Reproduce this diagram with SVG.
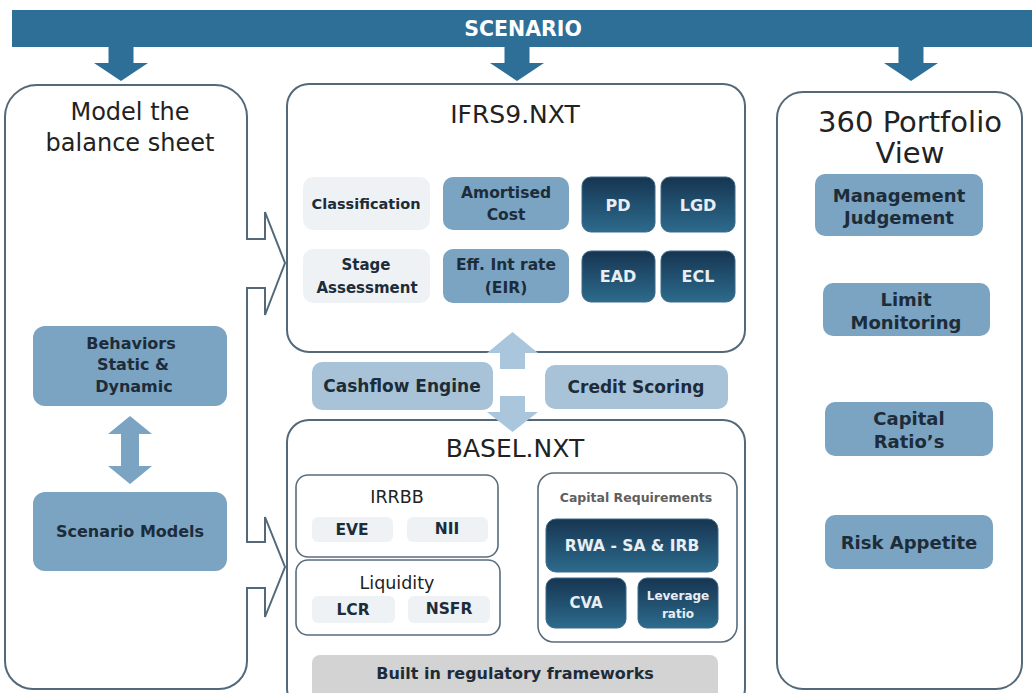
<svg xmlns="http://www.w3.org/2000/svg" width="1032" height="693" viewBox="0 0 1032 693">
<defs>
<linearGradient id="gd" x1="0" y1="0" x2="0" y2="1">
<stop offset="0" stop-color="#163551"/>
<stop offset="1" stop-color="#2d6b8d"/>
</linearGradient>
<style>
.ol{fill:#fff;stroke:#536979;stroke-width:2}
.il{fill:#fff;stroke:#586c7c;stroke-width:1.6}
.med{fill:#7ba3c2}
.lt{fill:#a8c3d7}
.pale{fill:#eef2f5}
.dk{fill:url(#gd);stroke:#3a6b8a;stroke-width:1}
.gr{fill:#d3d3d3}
.t{font-family:"DejaVu Sans",Verdana,sans-serif;text-anchor:middle;dominant-baseline:central}
.b{font-weight:bold;fill:#1d2c39}
.w{font-weight:bold;fill:#e8eef3}
.h{fill:#222;font-weight:normal}
.ban{fill:#2e6f97}
.arr{fill:#a9c6dc}
</style>
</defs>
<rect width="1032" height="693" fill="#fff"/>

<g id="scenario">
<rect class="ban" x="12" y="10" width="1025" height="37"/>
<text class="t" x="523" y="29" font-size="20.5" font-weight="bold" fill="#fff">SCENARIO</text>
</g>

<g id="balance-sheet">
<path class="ol" d="M37,85 H215 A32,32 0 0 1 247,117 V239 H265 V212 L285,263 L265,315 V288 H247 V542 H265 V517 L285,567 L265,617 V588 H247 V661 A28,28 0 0 1 219,689 H33 A28,28 0 0 1 5,661 V117 A32,32 0 0 1 37,85 Z"/>
<text class="t" x="130" y="112" font-size="24" fill="#222">Model the</text>
<text class="t" x="130" y="143" font-size="24" fill="#222">balance sheet</text>
</g>
<g id="behaviors">
<rect class="med" x="33" y="326" width="194" height="80" rx="12"/>
<text class="t b" x="131" y="343" font-size="16">Behaviors</text>
<text class="t b" x="133" y="364" font-size="16">Static &amp;</text>
<text class="t b" x="134" y="386" font-size="16">Dynamic</text>
</g>
<g id="scenario-models">
<rect class="med" x="33" y="492" width="194" height="79" rx="12"/>
<text class="t b" x="130" y="531" font-size="16">Scenario Models</text>
</g>

<g id="ifrs9">
<rect class="ol" x="287" y="84" width="458" height="268" rx="22"/>
<text class="t" x="515" y="114" font-size="25" fill="#222">IFRS9.NXT</text>
</g>
<g id="classification">
<rect class="pale" x="303" y="177" width="127" height="53" rx="10"/>
<text class="t b" x="366" y="204" font-size="14.5">Classification</text>
</g>
<g id="amortised-cost">
<rect class="med" x="443" y="177" width="126" height="53" rx="10"/>
<text class="t b" x="506" y="193" font-size="15.5">Amortised</text>
<text class="t b" x="506" y="215" font-size="15.5">Cost</text>
</g>
<g id="pd">
<rect class="dk" x="582" y="177" width="73" height="55" rx="9"/>
<text class="t w" x="618" y="205" font-size="16">PD</text>
</g>
<g id="lgd">
<rect class="dk" x="661" y="177" width="74" height="55" rx="9"/>
<text class="t w" x="698" y="205" font-size="16">LGD</text>
</g>
<g id="stage-assessment">
<rect class="pale" x="303" y="249" width="127" height="54" rx="10"/>
<text class="t b" x="366" y="265" font-size="15">Stage</text>
<text class="t b" x="367" y="288" font-size="15">Assessment</text>
</g>
<g id="eir">
<rect class="med" x="443" y="249" width="126" height="54" rx="10"/>
<text class="t b" x="506" y="265" font-size="15.5">Eff. Int rate</text>
<text class="t b" x="506" y="288" font-size="15.5">(EIR)</text>
</g>
<g id="ead">
<rect class="dk" x="582" y="251" width="73" height="51" rx="9"/>
<text class="t w" x="618" y="276" font-size="16">EAD</text>
</g>
<g id="ecl">
<rect class="dk" x="661" y="251" width="74" height="51" rx="9"/>
<text class="t w" x="698" y="276" font-size="16">ECL</text>
</g>

<g id="cashflow-engine">
<rect class="lt" x="312" y="362" width="181" height="48" rx="10"/>
<text class="t b" x="402" y="386" font-size="17">Cashflow Engine</text>
</g>
<g id="credit-scoring">
<rect class="lt" x="545" y="365" width="183" height="44" rx="10"/>
<text class="t b" x="636" y="387" font-size="17">Credit Scoring</text>
</g>

<g id="basel">
<rect class="ol" x="287" y="420" width="458" height="290" rx="22"/>
<text class="t" x="515" y="448" font-size="25" fill="#222">BASEL.NXT</text>
</g>
<g id="irrbb">
<rect class="il" x="296" y="475" width="202" height="82" rx="12"/>
<text class="t h" x="397" y="497" font-size="17.5">IRRBB</text>
<rect class="pale" x="312" y="517" width="81" height="25" rx="6"/>
<text class="t b" x="352" y="530" font-size="15.5">EVE</text>
<rect class="pale" x="407" y="517" width="81" height="25" rx="6"/>
<text class="t b" x="447" y="529" font-size="15.5">NII</text>
</g>
<g id="liquidity">
<rect class="il" x="296" y="560" width="204" height="75" rx="12"/>
<text class="t h" x="397" y="583" font-size="17.5">Liquidity</text>
<rect class="pale" x="312" y="596" width="83" height="27" rx="6"/>
<text class="t b" x="353" y="610" font-size="15.5">LCR</text>
<rect class="pale" x="408" y="596" width="82" height="27" rx="6"/>
<text class="t b" x="449" y="609" font-size="15.5">NSFR</text>
</g>
<g id="capital-requirements">
<rect class="il" x="538" y="473" width="199" height="169" rx="16"/>
<text class="t" x="636" y="497" font-size="12.5" font-weight="bold" fill="#5f5f5f">Capital Requirements</text>
</g>
<g id="rwa">
<rect class="dk" x="546" y="519" width="172" height="53" rx="10"/>
<text class="t w" x="632" y="546" font-size="15.5">RWA - SA &amp; IRB</text>
</g>
<g id="cva">
<rect class="dk" x="546" y="578" width="80" height="50" rx="9"/>
<text class="t w" x="586" y="603" font-size="15">CVA</text>
</g>
<g id="leverage">
<rect class="dk" x="638" y="578" width="80" height="50" rx="9"/>
<text class="t w" x="678" y="596" font-size="12">Leverage</text>
<text class="t w" x="678" y="614" font-size="12">ratio</text>
</g>
<g id="built-in">
<rect class="gr" x="312" y="655" width="406" height="45" rx="8"/>
<text class="t b" x="515" y="673" font-size="16">Built in regulatory frameworks</text>
</g>

<g id="portfolio-view">
<rect class="ol" x="777" y="92" width="245" height="597" rx="26"/>
<text class="t" x="910" y="122" font-size="29" fill="#222">360 Portfolio</text>
<text class="t" x="910" y="153" font-size="29" fill="#222">View</text>
</g>
<g id="management-judgement">
<rect class="med" x="815" y="174" width="168" height="62" rx="10"/>
<text class="t b" x="899" y="195" font-size="18">Management</text>
<text class="t b" x="899" y="217" font-size="18">Judgement</text>
</g>
<g id="limit-monitoring">
<rect class="med" x="823" y="283" width="167" height="53" rx="10"/>
<text class="t b" x="906" y="299" font-size="18">Limit</text>
<text class="t b" x="906" y="322" font-size="18">Monitoring</text>
</g>
<g id="capital-ratios">
<rect class="med" x="825" y="402" width="168" height="54" rx="10"/>
<text class="t b" x="909" y="418" font-size="18">Capital</text>
<text class="t b" x="909" y="441" font-size="18">Ratio’s</text>
</g>
<g id="risk-appetite">
<rect class="med" x="825" y="515" width="168" height="54" rx="10"/>
<text class="t b" x="909" y="542" font-size="18">Risk Appetite</text>
</g>

<g id="connectors">
<polygon class="ban" points="108.5,47 133.5,47 133.5,63 148,63 121,81 94,63 108.5,63"/>
<polygon class="ban" points="504.5,47 529.5,47 529.5,63 544,63 517,81 490,63 504.5,63"/>
<polygon class="ban" points="898.5,47 923.5,47 923.5,63 938,63 911,81 884,63 898.5,63"/>
<polygon class="med" points="130,416 152,434 139,434 139,466 152,466 130,484 108,466 121,466 121,434 108,434"/>
<polygon class="arr" points="512.5,332 538,353 525,353 525,369 500,369 500,353 487,353"/>
<polygon class="arr" points="500,396 525,396 525,412 538,412 512.5,432 487,412 500,412"/>
</g>
</svg>
